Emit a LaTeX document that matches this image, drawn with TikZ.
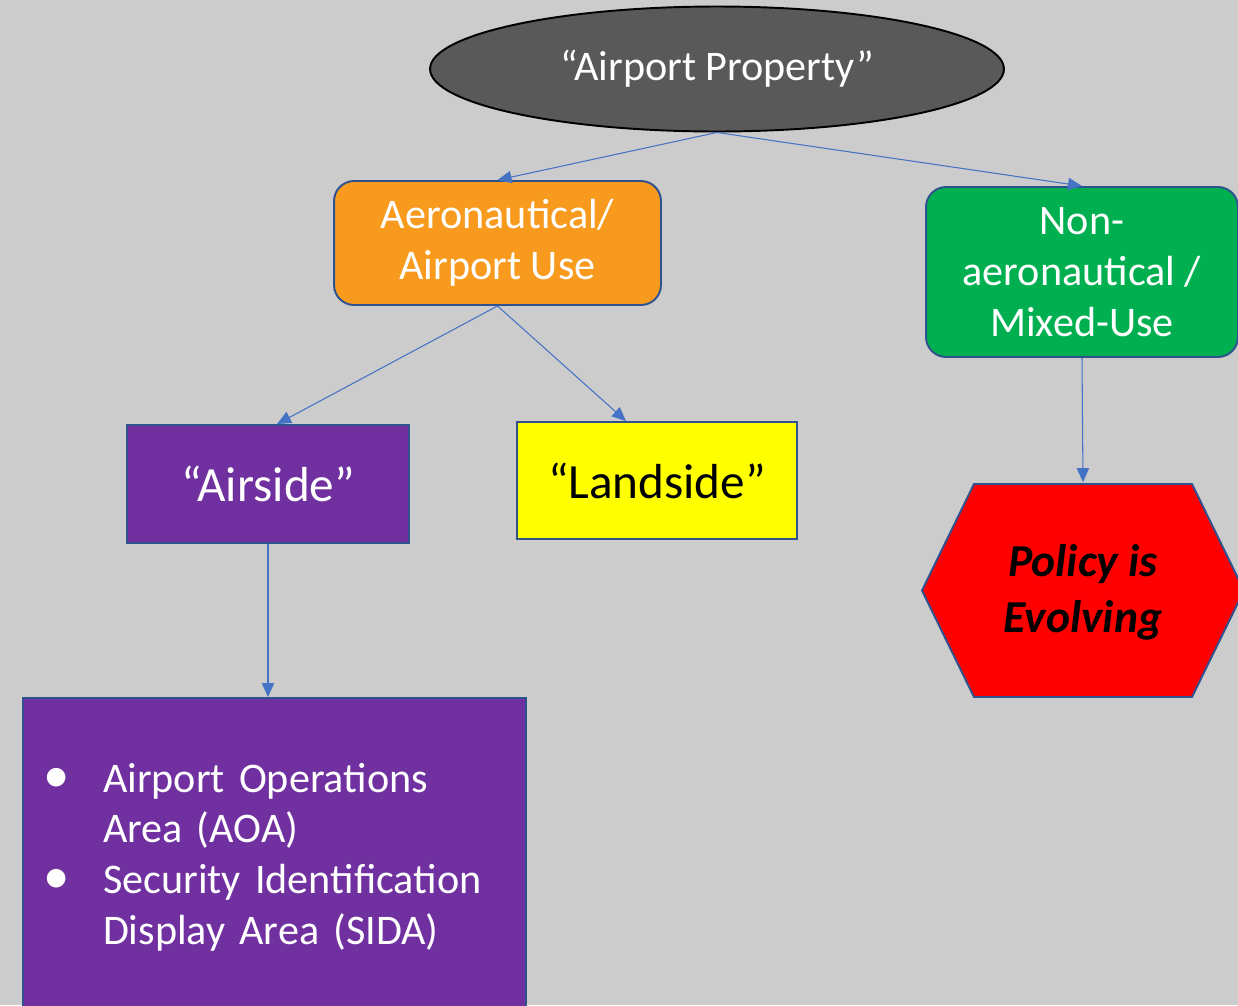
\documentclass[tikz,border=0pt]{standalone}
\usepackage{fontspec}
\setmainfont{Carlito}
\usetikzlibrary{shapes.geometric,arrows.meta}

\definecolor{bggray}{HTML}{CCCCCC}
\definecolor{propgray}{HTML}{595959}
\definecolor{aeroorange}{HTML}{F89A1E}
\definecolor{mixgreen}{HTML}{00B050}
\definecolor{sidepurple}{HTML}{7030A0}
\definecolor{landyellow}{HTML}{FFFF00}
\definecolor{policyred}{HTML}{FF0000}
\definecolor{boxline}{HTML}{2F528F}
\definecolor{linkblue}{HTML}{4472C4}

\newcommand{\areabullet}{\makebox[1.2cm][l]{\fontsize{30}{28.9}\selectfont•}}

\begin{document}
\begin{tikzpicture}[x=0.02cm, y=-0.02cm,
  box/.style={draw=boxline, line width=1.1pt, inner sep=0pt, align=center,
    text=white, font=\fontsize{24}{28.9}\selectfont},
  link/.style={draw=linkblue, line width=0.6pt, -{Triangle[length=8pt,width=7pt]}}]

  \useasboundingbox (0,0) rectangle (1238,1005);
  \clip (0,0) rectangle (1238,1005);
  \fill[bggray] (0,0) rectangle (1238,1005);

  % Airport Property
  \node[box, ellipse, draw=black, fill=propgray, minimum width=11.48cm,
    minimum height=2.5cm] (prop) at (717,69) {“Airport Property”};

  % Aeronautical
  \node[box, rounded corners=0.4cm, fill=aeroorange, minimum width=6.54cm,
    minimum height=2.48cm] (aero) at (497.5,243) {Aeronautical/\\Airport Use};

  % Non-aeronautical
  \node[box, rounded corners=0.4cm, fill=mixgreen, minimum width=6.24cm,
    minimum height=3.4cm] (mixed) at (1082,272) {Non-\\aeronautical /\\Mixed-Use};

  % Airside
  \node[box, fill=sidepurple, minimum width=5.64cm, minimum height=2.36cm,
    font=\fontsize{28}{34}\selectfont] (airside) at (268,484) {“Airside”};

  % Landside
  \node[box, fill=landyellow, text=black, minimum width=5.6cm, minimum height=2.34cm,
    font=\fontsize{28}{34}\selectfont] (landside) at (657,480.5) {“Landside”};

  % Policy (hexagon outline, then its text)
  \draw[boxline, line width=1.1pt, fill=policyred]
    (922,590.5) -- (974,484) -- (1192,484) -- (1244,590.5)
    -- (1192,697) -- (974,697) -- cycle;
  \node[inner sep=0pt, align=center, minimum width=6.44cm, minimum height=4.26cm,
    font=\fontsize{26}{31.7}\selectfont\bfseries\itshape] (policy) at (1083,592)
    {Policy is\\Evolving};

  % Airside areas
  \node[box, fill=sidepurple, minimum width=10.06cm, minimum height=6.36cm,
    inner xsep=0.4cm, text width=9.26cm, align=left] (areas) at (274.5,857)
    {\areabullet Airport Operations\\
     \hspace*{1.2cm}Area (AOA)\\
     \areabullet Security Identification\\
     \hspace*{1.2cm}Display Area (SIDA)};

  % Links
  \draw[link] (prop.south) -- (aero.north);
  \draw[link] (prop.south) -- (mixed.north);
  \draw[link] (aero.south) -- ([xshift=0.18cm]airside.north);
  \draw[link] (aero.south) -- ([xshift=-0.62cm]landside.north);
  \draw[link] (airside.south) -- (airside.south |- areas.north);
  \draw[link] (mixed.south) -- ([yshift=0.06cm]policy.north);
\end{tikzpicture}
\end{document}
